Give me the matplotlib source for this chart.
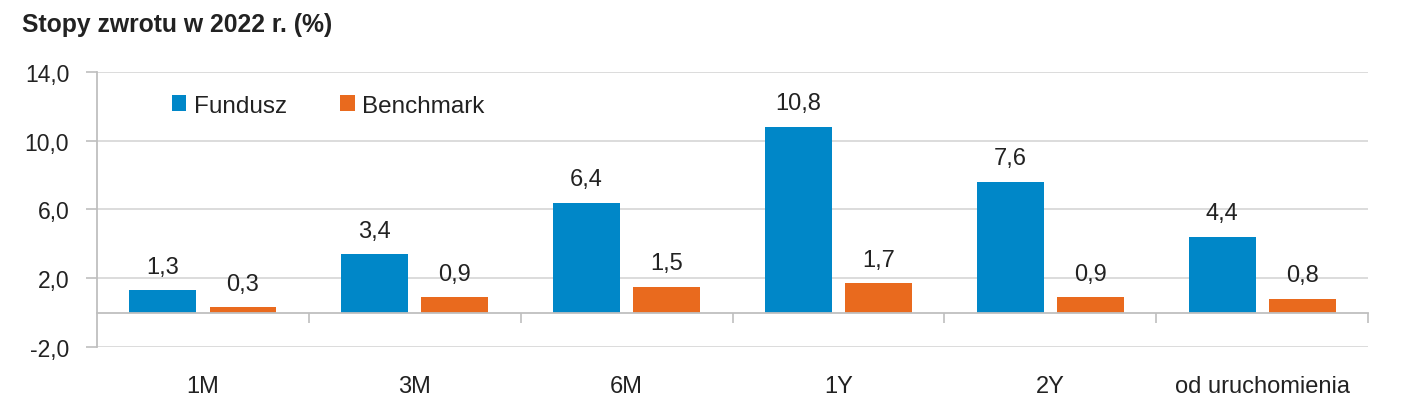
import matplotlib
matplotlib.use("Agg")
from matplotlib import pyplot as plt
import numpy as np

plt.rcParams['font.family'] = ['Liberation Sans', 'DejaVu Sans']

categories = ["1M", "3M", "6M", "1Y", "2Y", "od uruchomienia"]
fundusz = [1.3, 3.4, 6.4, 10.8, 7.6, 4.4]
benchmark = [0.3, 0.9, 1.5, 1.7, 0.9, 0.8]
y_ticks = [-2.0, 2.0, 6.0, 10.0, 14.0]

BLUE = "#0087C8"
ORANGE = "#E96A1E"
GRID = "#D9D9D9"
AXIS = "#BFBFBF"
TEXT = "#222222"


def fmt(v):
    return f"{v:.1f}".replace(".", ",")


fig = plt.figure(figsize=(14.04, 4.06), dpi=100)
ax = fig.add_axes([0.0691, 0.1429, 0.9053, 0.6773])

x = np.arange(len(categories))
w = 0.316
off = 0.189
b1 = ax.bar(x - off, fundusz, w, color=BLUE, label="Fundusz", zorder=3)
b2 = ax.bar(x + off, benchmark, w, color=ORANGE, label="Benchmark", zorder=3)

for bars, vals in ((b1, fundusz), (b2, benchmark)):
    for bar, v in zip(bars, vals):
        ax.annotate(fmt(v), (bar.get_x() + bar.get_width() / 2, v),
                    xytext=(0, 9), textcoords="offset points",
                    ha="center", va="bottom", fontsize=17, color=TEXT)

ax.set_xlim(-0.5, len(categories) - 0.5)
ax.set_ylim(-2, 14)
ax.set_yticks(y_ticks)
ax.set_yticklabels([fmt(v) for v in y_ticks])
ax.tick_params(axis="y", length=8, width=1.2, color=AXIS, pad=12,
               labelsize=16.5, labelcolor=TEXT)
ax.yaxis.grid(True, color=GRID, linewidth=1.3, zorder=0)

# x axis at zero with boundary ticks
ax.spines["bottom"].set_position(("data", 0))
ax.spines["bottom"].set_color(AXIS)
ax.spines["bottom"].set_linewidth(1.3)
ax.spines["bottom"].set_zorder(4)
ax.set_xticks(np.arange(len(categories)) + 0.5)
ax.set_xticklabels([])
ax.tick_params(axis="x", length=7, width=1.2, color=AXIS)
for s in ("top", "right"):
    ax.spines[s].set_visible(False)
ax.spines["left"].set_color(AXIS)
ax.spines["left"].set_linewidth(1.3)

sec = ax.secondary_xaxis("bottom")
sec.spines["bottom"].set_visible(False)
sec.set_xticks(x)
sec.set_xticklabels(categories)
sec.tick_params(length=0, pad=20, labelsize=17, labelcolor=TEXT)

ax.legend(loc="upper left", bbox_to_anchor=(0.0455, 0.98), ncol=2,
          frameon=False, fontsize=17.5, handlelength=0.6, handleheight=0.6,
          handletextpad=0.3, columnspacing=2.2, labelcolor=TEXT,
          borderaxespad=0.3)

fig.text(0.0157, 0.938, "Stopy zwrotu w 2022 r. (%)", fontsize=17.8,
         fontweight="bold", color=TEXT, ha="left", va="center")

fig.savefig("out.png", dpi=100)
